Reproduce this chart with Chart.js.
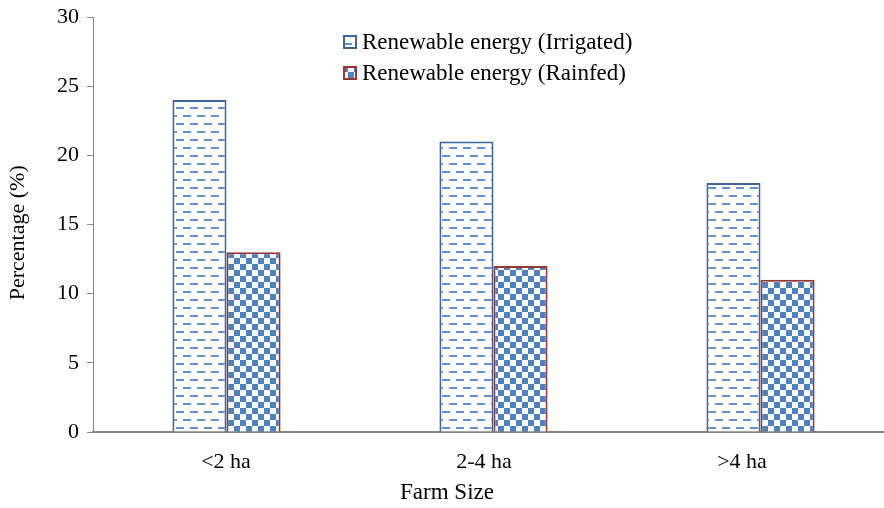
<!DOCTYPE html>
<html>
<head>
<meta charset="utf-8">
<script src="https://cdn.jsdelivr.net/npm/chart.js@4.4.0/dist/chart.umd.min.js"></script>
<style>
  html, body { margin: 0; padding: 0; background: #ffffff; overflow: hidden; }
  #wrap { width: 884px; height: 508px; overflow: hidden; }
</style>
</head>
<body>
<div id="wrap"><canvas id="c" width="900" height="508"></canvas></div>
<script>
// ---- data ----
const categories = ['<2 ha', '2-4 ha', '>4 ha'];
const irrigated = [24, 21, 18];
const rainfed = [13, 12, 11];
const seriesLabels = ['Renewable energy (Irrigated)', 'Renewable energy (Rainfed)'];
const yTicks = [0, 5, 10, 15, 20, 25, 30];

const FONT = "'Liberation Serif', 'Times New Roman', serif";

// ---- patterns ----
function dashPattern() {
  const t = document.createElement('canvas');
  t.width = 14; t.height = 16;
  const g = t.getContext('2d');
  g.fillStyle = '#ffffff'; g.fillRect(0, 0, 14, 16);
  g.fillStyle = '#6690c9';
  g.fillRect(1, 3, 8, 2);
  g.fillRect(8, 11, 8, 2);
  g.fillRect(-6, 11, 8, 2);
  return g.createPattern(t, 'repeat');
}
function checkerPattern() {
  const t = document.createElement('canvas');
  t.width = 12; t.height = 12;
  const g = t.getContext('2d');
  g.fillStyle = '#ffffff'; g.fillRect(0, 0, 12, 12);
  g.fillStyle = '#4f81bd';
  g.fillRect(0, 0, 6, 6);
  g.fillRect(6, 6, 6, 6);
  return g.createPattern(t, 'repeat');
}
const pDash = dashPattern();
const pCheck = checkerPattern();

// ---- custom stacked legend ----
const stackedLegend = {
  id: 'stackedLegend',
  afterDraw(chart) {
    const ctx = chart.ctx;
    ctx.save();
    const rows = [42, 73];
    chart.data.datasets.forEach((ds, i) => {
      const y = rows[i];
      ctx.fillStyle = ds.backgroundColor;
      ctx.fillRect(344, y - 6, 12, 12);
      ctx.lineWidth = 2;
      ctx.strokeStyle = ds.borderColor;
      ctx.strokeRect(344, y - 6, 12, 12);
      ctx.fillStyle = '#000000';
      ctx.font = '23px ' + FONT;
      ctx.textBaseline = 'middle';
      ctx.textAlign = 'left';
      ctx.fillText(ds.label, 362, y + 1);
    });
    ctx.restore();
  }
};

new Chart(document.getElementById('c'), {
  type: 'bar',
  data: {
    labels: categories,
    datasets: [
      {
        label: seriesLabels[0],
        data: irrigated,
        xAxisID: 'x',
        yAxisID: 'y',
        backgroundColor: pDash,
        borderColor: '#3f6598',
        borderWidth: 2
      },
      {
        label: seriesLabels[1],
        data: rainfed,
        xAxisID: 'x',
        yAxisID: 'y',
        backgroundColor: pCheck,
        borderColor: '#953735',
        borderWidth: 2
      }
    ]
  },
  options: {
    responsive: false,
    animation: false,
    devicePixelRatio: 1,
    layout: { padding: { top: 17, right: 6, bottom: 0, left: 0 } },
    datasets: {
      bar: { categoryPercentage: 0.405, barPercentage: 1.0 }
    },
    plugins: {
      legend: { display: false },
      tooltip: { enabled: false },
      title: {
        display: true,
        position: 'bottom',
        text: 'Farm Size',
        color: '#000000',
        font: { family: FONT, size: 23, weight: 'normal' },
        padding: { top: 0, bottom: 1 }
      }
    },
    scales: {
      x: {
        type: 'category',
        position: 'bottom',
        grid: { display: false, drawTicks: false },
        border: { display: true, color: '#868686', width: 2 },
        ticks: { display: false },
        afterFit(s) { s.height = 0; }
      },
      xLabels: {
        type: 'linear',
        axis: 'x',
        position: 'bottom',
        offset: false,
        min: -0.5155,
        max: 2.5892,
        afterBuildTicks(s) { s.ticks = categories.map((c, i) => ({ value: i })); },
        grid: { display: false, drawTicks: false, offset: false },
        border: { display: false },
        ticks: {
          color: '#000000',
          font: { family: FONT, size: 22 },
          padding: 17,
          autoSkip: false,
          maxRotation: 0,
          callback: (v) => categories[v]
        },
        afterFit(s) { s.height = 47.4; }
      },
      y: {
        min: 0,
        max: 30,
        afterBuildTicks(s) { s.ticks = yTicks.map(v => ({ value: v })); },
        grid: { drawOnChartArea: false, drawTicks: true, tickLength: 6, color: '#868686' },
        border: { display: true, color: '#868686', width: 1 },
        ticks: { color: '#000000', font: { family: FONT, size: 22 }, padding: 8 },
        title: { display: true, text: 'Percentage (%)   ', color: '#000000', font: { family: FONT, size: 22 }, padding: { top: 5, bottom: 0 } },
        afterFit(s) { s.width = 93; s.paddingTop = 0; }
      }
    }
  },
  plugins: [stackedLegend]
});
</script>
</body>
</html>
